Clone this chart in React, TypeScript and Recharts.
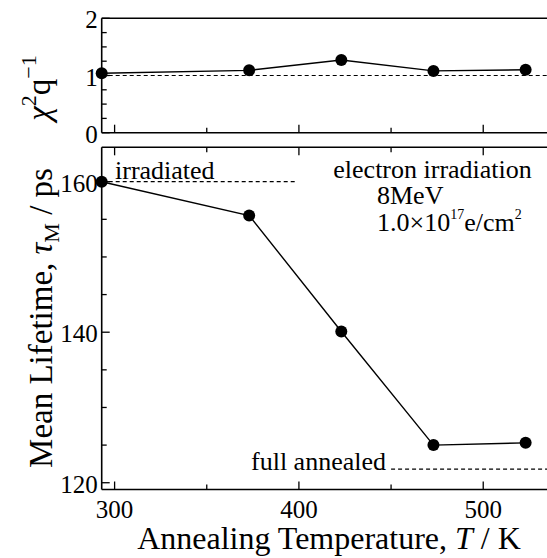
import React from 'react'
import { LineChart, Line, XAxis, YAxis, ReferenceLine } from 'recharts'

// annealing temperature (K)
const temperatures = [293, 373, 423, 473, 523]
// reduced chi-square of the fits
const chiSquare = [1.04, 1.09, 1.27, 1.08, 1.1]
// mean positron lifetime (ps)
const meanLifetime = [160.0, 155.5, 140.1, 125.0, 125.3]

const xTicks = [300, 350, 400, 450, 500]
const chiTicks = [0, 0.25, 0.5, 0.75, 1, 1.25, 1.5, 1.75, 2]
const tauTicks = [120, 125, 130, 135, 140, 145, 150, 155, 160]

const xDomain: [number, number] = [293, 534.6]
const chiDomain: [number, number] = [0, 2]
const tauDomain: [number, number] = [119.1, 164.57]

const chiReference = 1
const irradiatedLevel = 160
const irradiatedRange = [293, 398]
const annealedLevel = 121.8
const annealedRange = [450, 534.6]

const chiData = temperatures.map((t, i) => ({ t, v: chiSquare[i] }))
const tauData = temperatures.map((t, i) => ({ t, v: meanLifetime[i] }))

const FONT = '"Liberation Serif", "Times New Roman", serif'
const W = 547
const H = 558
const AX = 30 // room given to each axis

function XTick(props: any) {
  const { x, y, payload, dir, showLabel } = props
  const major = payload.value % 100 === 0
  const len = major ? 8 : 5
  return (
    <g>
      <line x1={x} y1={y} x2={x} y2={y + dir * len} stroke="#000" strokeWidth={1.3} />
      {showLabel && major && (
        <text x={x} y={y + 28} textAnchor="middle" fontSize={25} fontFamily={FONT} fill="#000">
          {payload.value}
        </text>
      )}
    </g>
  )
}

function YTick(props: any) {
  const { x, y, payload, step } = props
  const major = Math.abs(payload.value / step - Math.round(payload.value / step)) < 1e-6
  const len = major ? 8 : 5
  return (
    <g>
      <line x1={x} y1={y} x2={x + len} y2={y} stroke="#000" strokeWidth={1.3} />
      {major && (
        <text x={x - 4} y={y + 10} textAnchor="end" fontSize={25} fontFamily={FONT} fill="#000">
          {payload.value}
        </text>
      )}
    </g>
  )
}

const axisLine = { stroke: '#000', strokeWidth: 1.6 }

export default function App() {
  return (
    <div style={{ position: 'absolute', left: 0, top: 0, width: W, height: H, overflow: 'hidden', background: '#fff' }}>
      {/* upper panel: chi-square */}
      <div style={{ position: 'absolute', left: 0, top: 0 }}>
        <LineChart
          width={W}
          height={H}
          data={chiData}
          margin={{ top: 18.3 - 10, right: 0, bottom: H - 132.7 - AX, left: 101.7 - 60 }}
        >
          <XAxis
            dataKey="t"
            type="number"
            domain={xDomain}
            ticks={xTicks}
            interval={0}
            height={AX}
            tickSize={0}
            tickMargin={0}
            axisLine={axisLine}
            tickLine={false}
            tick={(p: any) => <XTick {...p} dir={-1} showLabel={false} />}
          />
          <XAxis
            xAxisId="top"
            orientation="top"
            dataKey="t"
            type="number"
            domain={xDomain}
            height={10}
            axisLine={axisLine}
            tickLine={false}
            tick={false}
          />
          <YAxis
            type="number"
            domain={chiDomain}
            ticks={chiTicks}
            interval={0}
            width={60}
            tickSize={0}
            tickMargin={0}
            axisLine={axisLine}
            tickLine={false}
            tick={(p: any) => <YTick {...p} step={1} />}
          />
          <ReferenceLine y={chiReference} stroke="#000" strokeWidth={1.2} strokeDasharray="4 3" />
          <Line
            dataKey="v"
            stroke="#000"
            strokeWidth={1.4}
            dot={{ r: 6, fill: '#000', stroke: '#000', strokeWidth: 0 }}
            isAnimationActive={false}
          />
        </LineChart>
      </div>

      {/* lower panel: mean lifetime */}
      <div style={{ position: 'absolute', left: 0, top: 0 }}>
        <LineChart
          width={W}
          height={H}
          data={tauData}
          margin={{ top: 147.3 - AX, right: 0, bottom: H - 489.5 - AX, left: 101.7 - 60 }}
        >
          <XAxis
            dataKey="t"
            type="number"
            domain={xDomain}
            ticks={xTicks}
            interval={0}
            height={AX}
            tickSize={0}
            tickMargin={0}
            axisLine={axisLine}
            tickLine={false}
            tick={(p: any) => <XTick {...p} dir={-1} showLabel />}
          />
          <XAxis
            xAxisId="top"
            orientation="top"
            dataKey="t"
            type="number"
            domain={xDomain}
            ticks={xTicks}
            interval={0}
            height={AX}
            tickSize={0}
            tickMargin={0}
            axisLine={axisLine}
            tickLine={false}
            tick={(p: any) => <XTick {...p} dir={1} showLabel={false} />}
          />
          <YAxis
            type="number"
            domain={tauDomain}
            ticks={tauTicks}
            interval={0}
            width={60}
            tickSize={0}
            tickMargin={0}
            axisLine={axisLine}
            tickLine={false}
            tick={(p: any) => <YTick {...p} step={20} />}
          />
          <ReferenceLine
            segment={[{ x: irradiatedRange[0], y: irradiatedLevel }, { x: irradiatedRange[1], y: irradiatedLevel }]}
            stroke="#000"
            strokeWidth={1.2}
            strokeDasharray="4 3"
          />
          <ReferenceLine
            segment={[{ x: annealedRange[0], y: annealedLevel }, { x: annealedRange[1], y: annealedLevel }]}
            stroke="#000"
            strokeWidth={1.2}
            strokeDasharray="4 3"
          />
          <Line
            dataKey="v"
            stroke="#000"
            strokeWidth={1.4}
            dot={{ r: 6, fill: '#000', stroke: '#000', strokeWidth: 0 }}
            isAnimationActive={false}
          />
        </LineChart>
      </div>

      {/* titles and annotations */}
      <svg width={W} height={H} style={{ position: 'absolute', left: 0, top: 0, pointerEvents: 'none' }} fontFamily={FONT} fill="#000">
        <text x={115} y={179.3} fontSize={26}>irradiated</text>
        <text x={386} y={470} fontSize={26} textAnchor="end">full annealed</text>
        <text x={333.3} y={177.7} fontSize={26}>electron irradiation</text>
        <text x={377} y={204} fontSize={26}>8MeV</text>
        <text x={377} y={231} fontSize={26}>
          1.0×10<tspan fontSize={14} dy={-12}>17</tspan>
          <tspan dy={12}>e/cm</tspan>
          <tspan fontSize={14} dy={-12}>2</tspan>
        </text>
        <text x={329} y={549} fontSize={32} textAnchor="middle">
          Annealing Temperature, <tspan fontStyle="italic">T</tspan> / K
        </text>
        <text transform="translate(52,318) rotate(-90)" fontSize={33} textAnchor="middle">
          Mean Lifetime, <tspan fontStyle="italic">τ</tspan>
          <tspan fontSize={22} dy={7}>M</tspan>
          <tspan dy={-7}> / ps</tspan>
        </text>
        <text transform="translate(50,88) rotate(-90)" fontSize={33} textAnchor="middle">
          <tspan fontStyle="italic">χ</tspan>
          <tspan fontSize={22} dy={-14}>2</tspan>
          <tspan dy={14}>q</tspan>
          <tspan fontSize={22} dy={-14}>−1</tspan>
        </text>
      </svg>
    </div>
  )
}
